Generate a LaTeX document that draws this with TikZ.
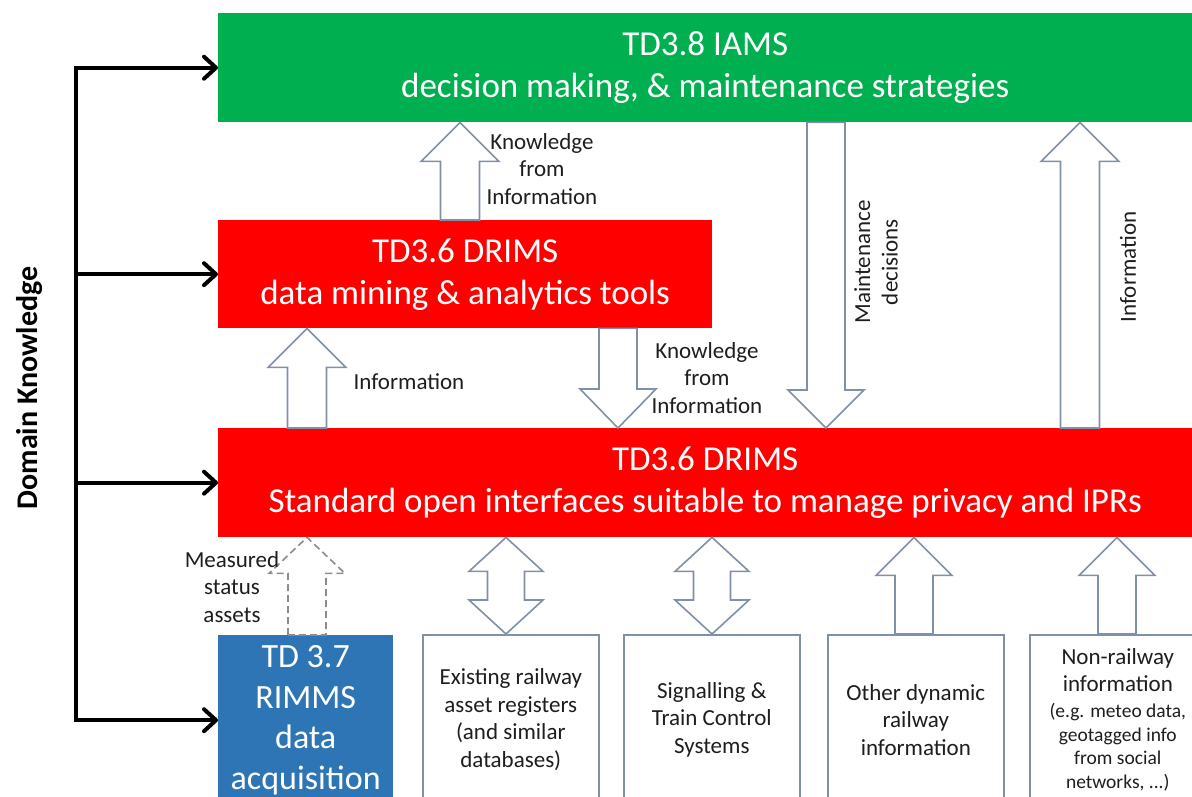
\documentclass[tikz,border=0pt]{standalone}
\usepackage{fontspec}
\setmainfont{Carlito}
\usetikzlibrary{arrows.meta,calc}
\definecolor{iamsgreen}{RGB}{0,176,80}
\definecolor{drimsred}{RGB}{255,0,0}
\definecolor{rimmsblue}{RGB}{46,117,182}
\definecolor{outl}{RGB}{128,144,166}
\definecolor{dashgray}{RGB}{140,140,140}
\definecolor{txt}{RGB}{30,30,30}
% block arrows: [style]{x}{from anchor}{to anchor}{half shaft}{head length}
\newcommand\blkup[6][]{%
  \path[blk,#1] let \p1=(#3), \p2=(#4) in
    (#2pt-#5pt,\y1) -- (#2pt-#5pt,\y2-#6pt) -- (#2pt-2*#5pt,\y2-#6pt) -- (#2pt,\y2)
    -- (#2pt+2*#5pt,\y2-#6pt) -- (#2pt+#5pt,\y2-#6pt) -- (#2pt+#5pt,\y1) -- cycle;}
\newcommand\blkdown[6][]{%
  \path[blk,#1] let \p1=(#3), \p2=(#4) in
    (#2pt-#5pt,\y1) -- (#2pt-#5pt,\y2+#6pt) -- (#2pt-2*#5pt,\y2+#6pt) -- (#2pt,\y2)
    -- (#2pt+2*#5pt,\y2+#6pt) -- (#2pt+#5pt,\y2+#6pt) -- (#2pt+#5pt,\y1) -- cycle;}
\newcommand\blkboth[6][]{%
  \path[blk,#1] let \p1=(#3), \p2=(#4) in
    (#2pt-#5pt,\y1+#6pt) -- (#2pt-#5pt,\y2-#6pt) -- (#2pt-2*#5pt,\y2-#6pt) -- (#2pt,\y2)
    -- (#2pt+2*#5pt,\y2-#6pt) -- (#2pt+#5pt,\y2-#6pt) -- (#2pt+#5pt,\y1+#6pt)
    -- (#2pt+2*#5pt,\y1+#6pt) -- (#2pt,\y1) -- (#2pt-2*#5pt,\y1+#6pt) -- cycle;}
\begin{document}
\begin{tikzpicture}[x=1pt,y=-1pt,
  bigbox/.style={rectangle, inner sep=0pt, anchor=north west, text=white, align=center,
    font=\fontsize{35}{42}\selectfont},
  greenbox/.style={bigbox, fill=iamsgreen},
  redbox/.style={bigbox, fill=drimsred},
  bluebox/.style={bigbox, fill=rimmsblue, font=\fontsize{34}{40.5}\selectfont},
  srcbox/.style={rectangle, inner sep=0pt, anchor=north west, draw=outl, line width=1.6pt,
    fill=white, text=txt, align=center, font=\fontsize{23}{27.5}\selectfont,
    minimum width=176pt, minimum height=170pt},
  lbl/.style={text=txt, align=center, inner sep=0pt, font=\fontsize{23}{27.5}\selectfont},
  blk/.style={draw=outl, fill=white, line width=1.6pt, line join=miter},
  dashblk/.style={draw=dashgray, dash pattern=on 7pt off 4pt},
  dkline/.style={line width=4pt, line join=miter, draw=black},
  dktip/.style={-{Straight Barb[length=12pt,width=22pt,line cap=round,line join=round]}},
]
\useasboundingbox (0,0) rectangle (1192,796);
\clip (0,0) rectangle (1192,796);

% main boxes
\node[greenbox, minimum width=974pt, minimum height=109pt] (iams) at (218,13)
  {TD3.8 IAMS\\decision making, \& maintenance strategies};
\node[redbox, minimum width=494pt, minimum height=108pt] (drimsA) at (218,220)
  {TD3.6 DRIMS\\data mining \& analytics tools};
\node[redbox, minimum width=974pt, minimum height=109pt] (drimsB) at (218,428)
  {TD3.6 DRIMS\\Standard open interfaces suitable to manage privacy and IPRs};
\node[bluebox, minimum width=175pt, minimum height=170pt] (rimms) at (218,635)
  {TD 3.7\\RIMMS\\data\\acquisition};

% source boxes
\node[srcbox] (exist) at (422,634)
  {Existing railway\\asset registers\\(and similar\\databases)};
\node[srcbox] (sig) at (623,634)
  {Signalling \&\\Train Control\\Systems};
\node[srcbox] (other) at (827,634)
  {Other dynamic\\railway\\information};
\node[srcbox] (nonrail) at (1029,634)
  {Non-railway\\information\\[-1.5pt]{\fontsize{19.5}{23.5}\selectfont (e.g. meteo data,}\\[-4pt]{\fontsize{19.5}{23.5}\selectfont geotagged info}\\[-4pt]{\fontsize{19.5}{23.5}\selectfont from social}\\[-4pt]{\fontsize{19.5}{23.5}\selectfont networks, ...)}};

% block arrows
\blkup{460}{drimsA.north}{iams.south}{19.5}{39}
\blkup{307}{drimsB.north}{drimsA.south}{19.5}{39}
\blkdown{618}{drimsA.south}{drimsB.north}{19}{39}
\blkdown{826}{iams.south}{drimsB.north}{19}{38}
\blkup{1080}{drimsB.north}{iams.south}{19.5}{39}
\blkup[dashblk]{307}{rimms.north}{drimsB.south}{19}{36}
\blkboth{506}{exist.north}{drimsB.south}{18.5}{34}
\blkboth{712}{sig.north}{drimsB.south}{18.5}{34}
\blkup{914}{other.north}{drimsB.south}{19}{38}
\blkup{1117}{nonrail.north}{drimsB.south}{19}{38}

% labels
\node[lbl] (l1) at (542,169) {Knowledge\\from\\Information};
\node[lbl] (l2) at (409,382) {Information};
\node[lbl] (l3) at (707,378) {Knowledge\\from\\Information};
\node[lbl, rotate=90] (l4) at (876,262) {Maintenance\\decisions};
\node[lbl, rotate=90] (l5) at (1128,267) {Information};
\node[lbl] (l6) at (232,587) {Measured\\status\\assets};

% domain knowledge
\node[text=black, inner sep=0pt, rotate=90, font=\fontsize{30}{36}\selectfont\bfseries] (dk) at (30,388) {Domain Knowledge};
\coordinate (dkx) at (76,0);
\draw[dkline, {Straight Barb[length=12pt,width=22pt,line cap=round,line join=round]}-{Straight Barb[length=12pt,width=22pt,line cap=round,line join=round]}]
  (iams.west) -| (dkx |- rimms.west) -- (rimms.west);
\draw[dkline, dktip] (dkx |- drimsA.west) -- (drimsA.west);
\draw[dkline, dktip] (dkx |- drimsB.west) -- (drimsB.west);
\end{tikzpicture}
\end{document}
